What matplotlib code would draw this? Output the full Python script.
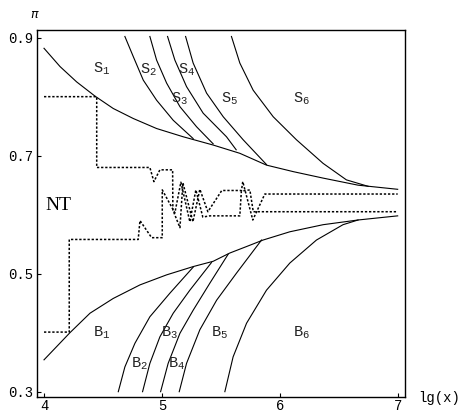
import matplotlib
matplotlib.use("Agg")
import matplotlib.pyplot as plt

# upper family S1..S6
s1_x = [4.0, 4.136, 4.277, 4.432, 4.587, 4.757, 4.955, 5.181, 5.435, 5.661, 5.887, 6.113, 6.367, 6.664, 7.0]
s1_y = [0.882, 0.851, 0.825, 0.801, 0.780, 0.763, 0.746, 0.732, 0.718, 0.704, 0.684, 0.673, 0.662, 0.650, 0.643]
s2_x = [4.686, 4.757, 4.842, 4.955, 5.096, 5.265]
s2_y = [0.902, 0.868, 0.828, 0.794, 0.760, 0.729]
s3_x = [4.898, 4.955, 5.04, 5.153, 5.294, 5.435]
s3_y = [0.902, 0.862, 0.823, 0.783, 0.749, 0.720]
s4_x = [5.048, 5.11, 5.209, 5.35, 5.548, 5.63]
s4_y = [0.902, 0.862, 0.817, 0.772, 0.732, 0.710]
s5_x = [5.201, 5.265, 5.379, 5.52, 5.689, 5.887]
s5_y = [0.902, 0.857, 0.806, 0.766, 0.727, 0.685]
s6_x = [5.59, 5.661, 5.774, 5.944, 6.141, 6.367, 6.565, 6.75]
s6_y = [0.902, 0.857, 0.811, 0.766, 0.727, 0.687, 0.659, 0.648]

# lower family B1..B6
b1_x = [4.0, 4.22, 4.39, 4.587, 4.814, 5.04, 5.265, 5.435, 5.576, 5.718, 5.858, 6.085, 6.367, 6.664, 7.0]
b1_y = [0.354, 0.400, 0.433, 0.458, 0.481, 0.498, 0.512, 0.521, 0.535, 0.546, 0.557, 0.571, 0.583, 0.591, 0.598]
b2_x = [4.63, 4.686, 4.771, 4.898, 5.068, 5.265]
b2_y = [0.300, 0.342, 0.382, 0.427, 0.467, 0.511]
b3_x = [4.836, 4.898, 4.983, 5.096, 5.237, 5.421]
b3_y = [0.300, 0.348, 0.393, 0.433, 0.472, 0.519]
b4_x = [4.989, 5.053, 5.153, 5.265, 5.407, 5.562]
b4_y = [0.300, 0.348, 0.399, 0.438, 0.484, 0.533]
b5_x = [5.147, 5.209, 5.322, 5.464, 5.633, 5.845]
b5_y = [0.300, 0.348, 0.405, 0.455, 0.501, 0.557]
b6_x = [5.534, 5.604, 5.718, 5.887, 6.085, 6.311, 6.536, 6.664]
b6_y = [0.300, 0.359, 0.416, 0.472, 0.518, 0.557, 0.583, 0.591]

# the two dotted boundaries
up_x = [4.0, 4.447, 4.447, 4.898, 4.932, 4.983, 5.091, 5.093, 5.153, 5.178, 5.263,
        5.322, 5.39, 5.508, 5.675, 5.686, 5.771, 5.873, 7.0]
up_y = [0.800, 0.800, 0.680, 0.680, 0.656, 0.676, 0.676, 0.608, 0.578, 0.654, 0.588,
        0.643, 0.605, 0.641, 0.641, 0.656, 0.591, 0.635, 0.635]
lo_x = [4.0, 4.214, 4.214, 4.799, 4.814, 4.913, 5.003, 5.003, 5.11, 5.161, 5.237,
        5.288, 5.347, 5.407, 5.661, 5.674, 5.746, 5.775, 7.0]
lo_y = [0.401, 0.401, 0.558, 0.558, 0.590, 0.561, 0.561, 0.642, 0.603, 0.655, 0.588,
        0.642, 0.596, 0.598, 0.598, 0.640, 0.642, 0.605, 0.605]

s_labels = ['S_1', 'S_2', 'S_3', 'S_4', 'S_5', 'S_6']
s_lab_x = [4.489, 4.884, 5.153, 5.209, 5.576, 6.184]
s_lab_y = [0.847, 0.846, 0.797, 0.846, 0.797, 0.797]
b_labels = ['B_1', 'B_2', 'B_3', 'B_4', 'B_5', 'B_6']
b_lab_x = [4.489, 4.808, 5.068, 5.125, 5.492, 6.184]
b_lab_y = [0.399, 0.348, 0.399, 0.348, 0.399, 0.399]

x_ticks = [4, 5, 6, 7]
y_ticks = [0.3, 0.5, 0.7, 0.9]

mono = 'Liberation Mono'

fig = plt.figure(figsize=(4.61, 4.12), dpi=100)
ax = fig.add_axes([0.0809, 0.0357, 0.7976, 0.8915])

curves = [(s1_x, s1_y), (s2_x, s2_y), (s3_x, s3_y), (s4_x, s4_y), (s5_x, s5_y), (s6_x, s6_y),
          (b1_x, b1_y), (b2_x, b2_y), (b3_x, b3_y), (b4_x, b4_y), (b5_x, b5_y), (b6_x, b6_y)]
for xs, ys in curves:
    ax.plot(xs, ys, color='k', lw=0.8, solid_joinstyle='round')

ax.plot(up_x, up_y, color='k', lw=1.1, linestyle=(0, (1.5, 1.2)))
ax.plot(lo_x, lo_y, color='k', lw=1.1, linestyle=(0, (1.5, 1.2)))

for lab, lx, ly in zip(s_labels + b_labels, s_lab_x + b_lab_x, s_lab_y + b_lab_y):
    ax.text(lx, ly, r'$\mathregular{' + lab + '}$', fontsize=11, family=mono,
            ha='center', va='center', color='#222222')
ax.text(4.121, 0.616, 'NT', fontsize=14, family='Liberation Serif', ha='center', va='center')

ax.set_xlim(3.943, 7.062)
ax.set_ylim(0.2905, 0.913)
ax.set_xticks(x_ticks)
ax.set_xticklabels([str(t) for t in x_ticks])
ax.set_yticks(y_ticks)
ax.set_yticklabels(['%.1f' % t for t in y_ticks])
ax.tick_params(direction='in', length=3, width=0.8, labelsize=10, pad=3)
ax.tick_params(axis='x', pad=1.5)
for lbl in ax.get_xticklabels() + ax.get_yticklabels():
    lbl.set_family(mono)
for sp in ax.spines.values():
    sp.set_linewidth(1.0)

fig.text(35 / 461, 1 - 15 / 412, r'$\pi$', fontsize=9, ha='center', va='center')
fig.text(418 / 461, 1 - 398 / 412, 'lg(x)', fontsize=10, family=mono, ha='left', va='center')

fig.savefig('out.png', dpi=100)
